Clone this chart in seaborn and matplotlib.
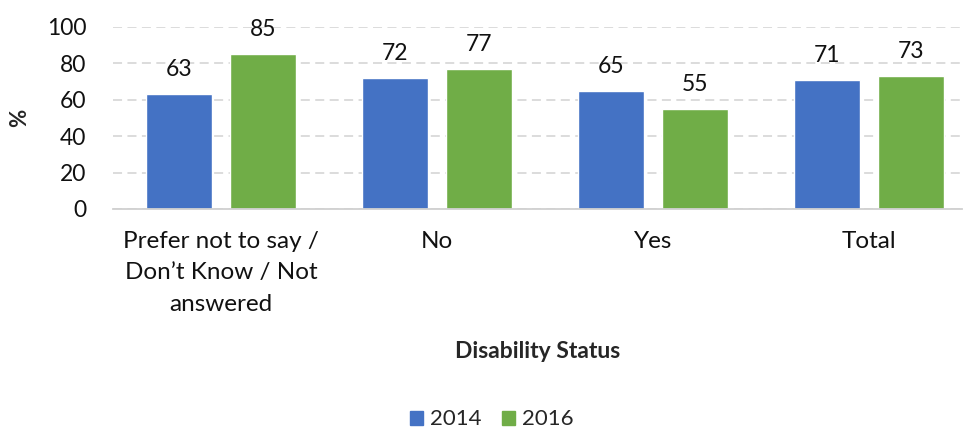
import matplotlib
matplotlib.use("Agg")
import matplotlib.pyplot as plt
import seaborn as sns
import pandas as pd

categories = ["Prefer not to say /\nDon\u2019t Know / Not\nanswered", "No", "Yes", "Total"]
years = ["2014", "2016"]
values_2014 = [63, 72, 65, 71]
values_2016 = [85, 77, 55, 73]
colors = ["#4472C4", "#70AD47"]

df = pd.DataFrame({
    "Disability Status": categories * 2,
    "Year": [years[0]] * 4 + [years[1]] * 4,
    "Value": values_2014 + values_2016,
})

sns.set_theme(style="white")
plt.rcParams["font.family"] = ["Lato", "DejaVu Sans"]

fig = plt.figure(figsize=(9.64, 4.28), dpi=100)
ax = fig.add_axes([0.117, 0.5117, 0.881, 0.4253])

sns.barplot(data=df, x="Disability Status", y="Value", hue="Year",
            palette=colors, saturation=1, width=0.78, gap=0.215, ax=ax,
            order=categories, hue_order=years, legend=True)

for cont in ax.containers:
    ax.bar_label(cont, fmt="%d", padding=10, fontsize=16.5, color="#111111")

ax.set_ylim(0, 100)
ax.set_xlim(-0.5, 3.43)
ax.set_yticks([0, 20, 40, 60, 80, 100])
ax.yaxis.grid(True, color="#D9D9D9", linestyle=(0, (5, 3)), linewidth=1.3)
ax.set_axisbelow(True)
for s in ["left", "right", "top"]:
    ax.spines[s].set_visible(False)
ax.spines["bottom"].set_color("#D0D0D0")
ax.spines["bottom"].set_linewidth(1.3)
ax.tick_params(axis="both", length=0, labelsize=16.5, colors="#111111")
ax.tick_params(axis="x", pad=16)
ax.tick_params(axis="y", pad=19)
for lbl in ax.get_xticklabels():
    lbl.set_fontsize(17.5)
    lbl.set_linespacing(1.6)

ax.set_ylabel("%", fontsize=16, fontweight="bold", labelpad=12)
ax.set_xlabel("Disability Status", fontsize=16.5, fontweight="bold", labelpad=19)

ax.legend_.remove()
handles = [plt.Rectangle((0, 0), 1, 1, color=c) for c in colors]
fig.legend(handles, years, loc="center", bbox_to_anchor=(0.51, 0.02),
           ncol=2, frameon=False, fontsize=16, handlelength=0.6,
           handleheight=0.6, handletextpad=0.3, columnspacing=0.9)

fig.savefig("out.png", dpi=100)
